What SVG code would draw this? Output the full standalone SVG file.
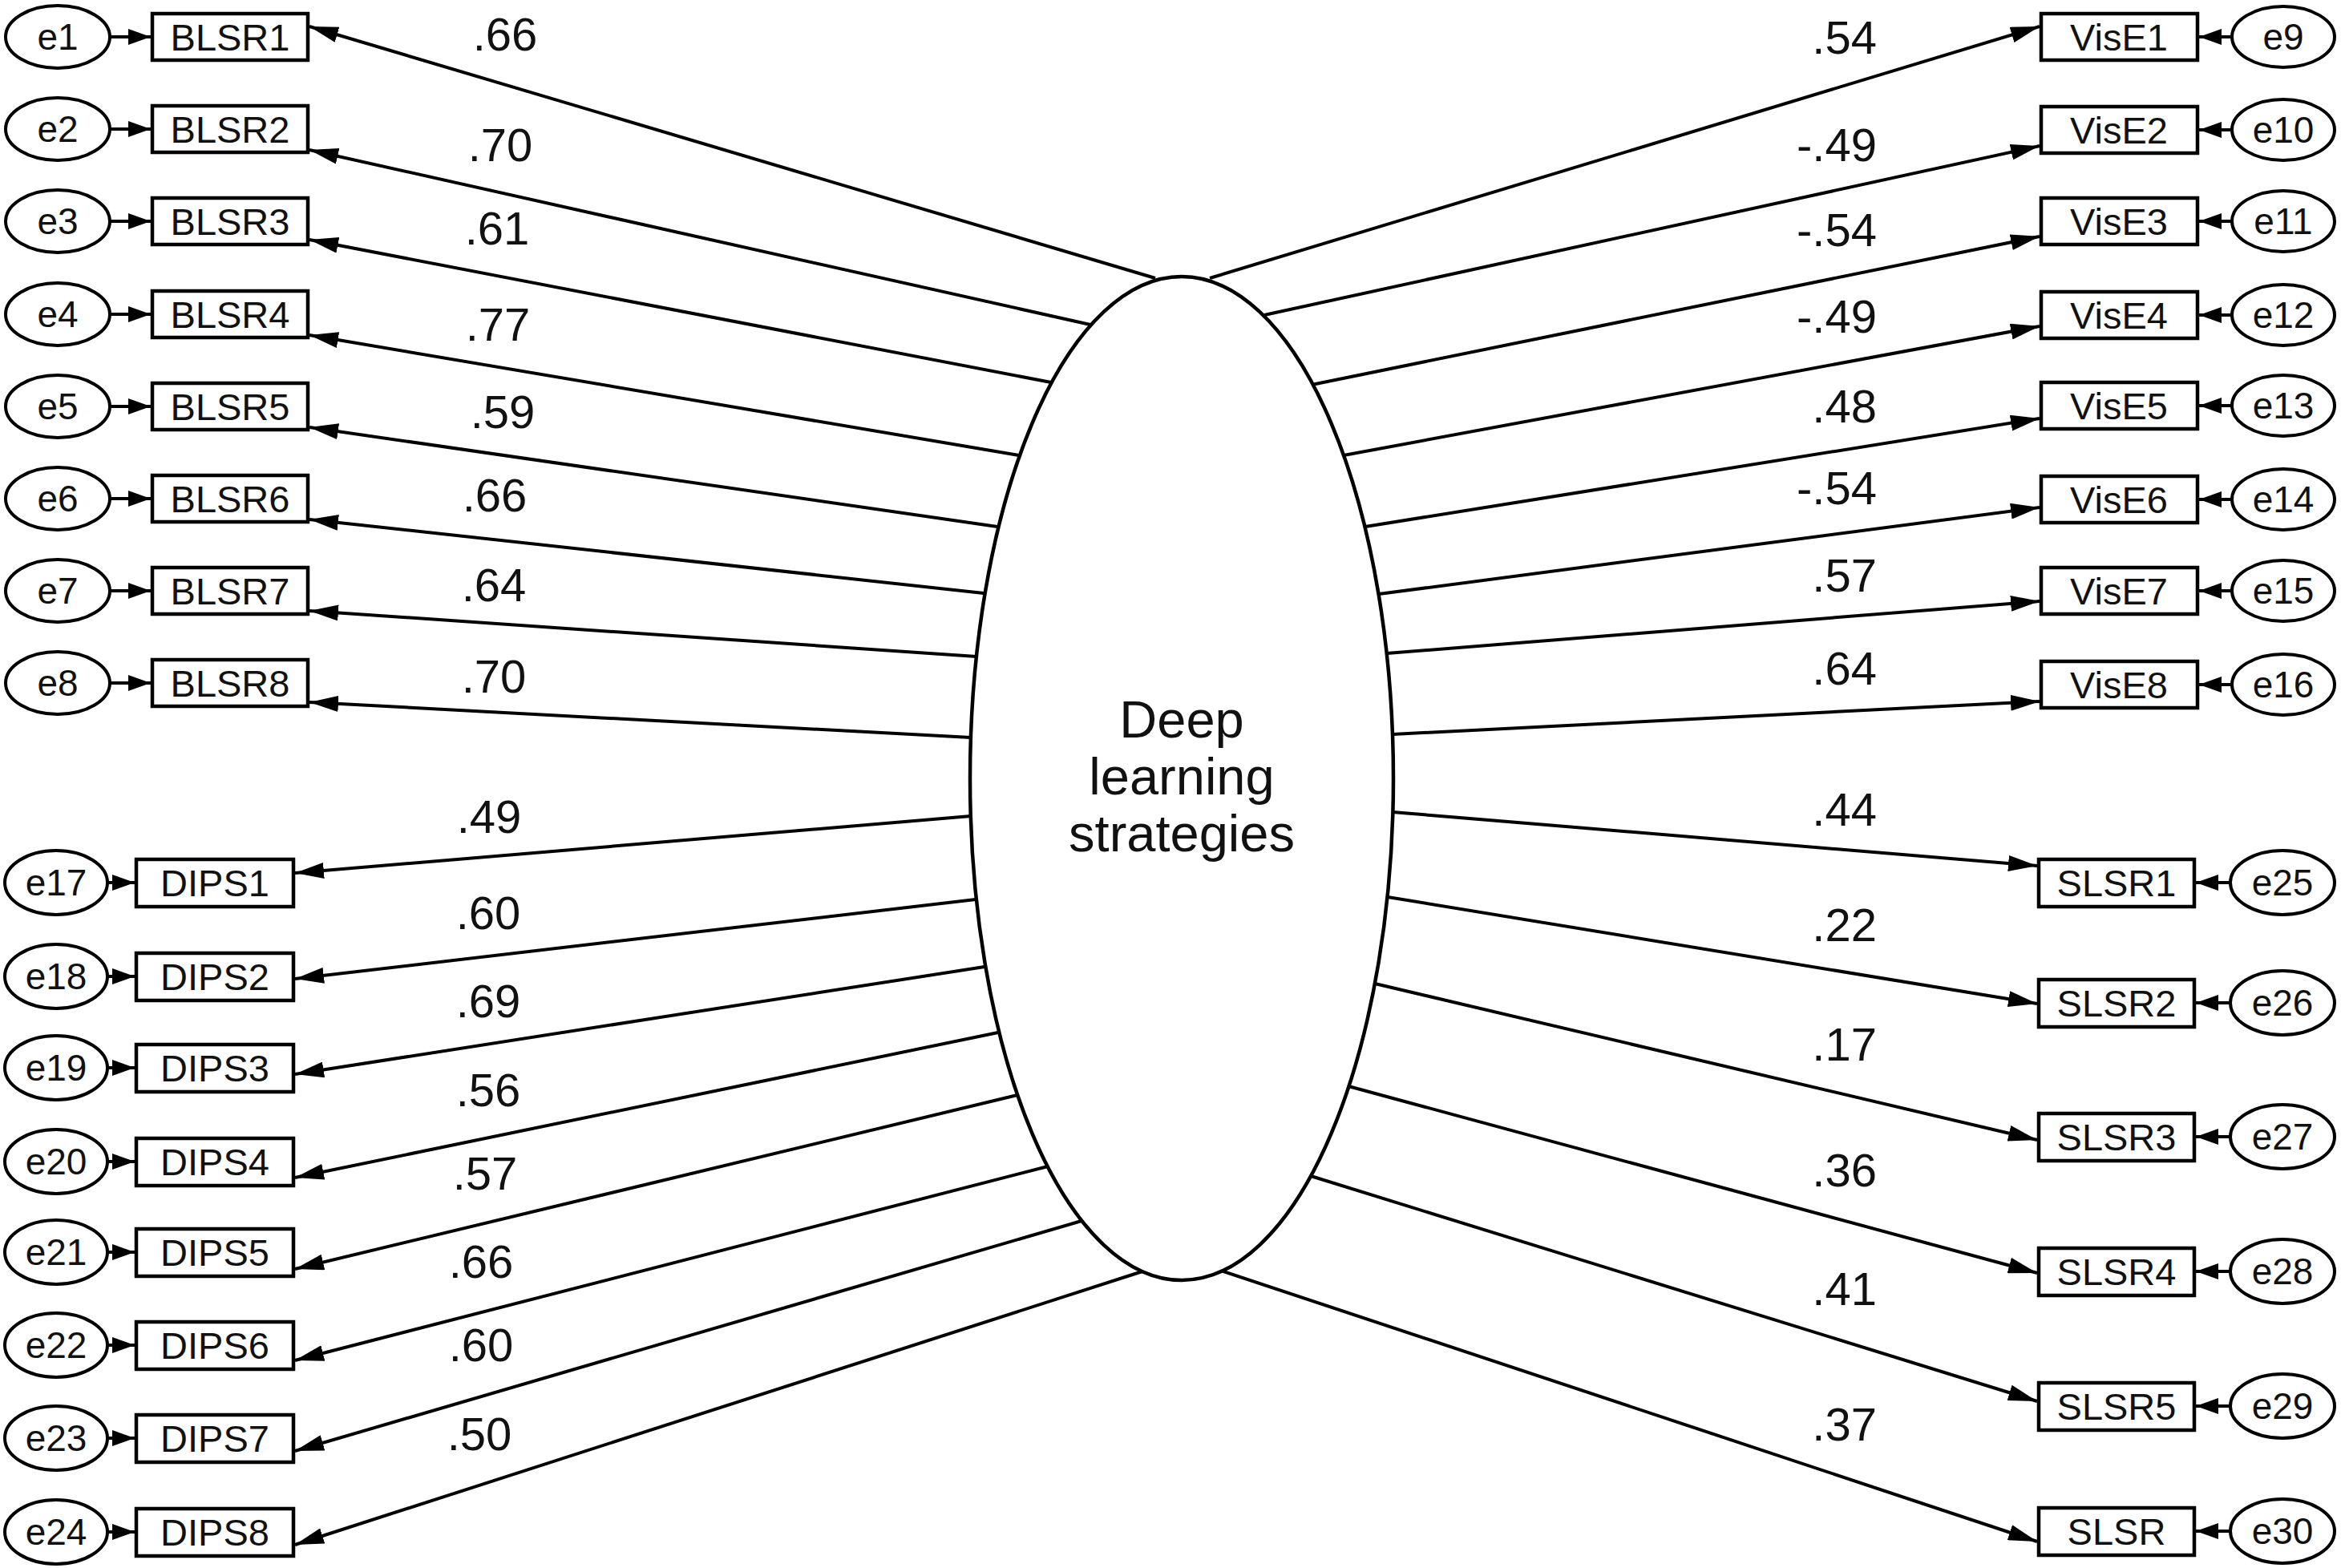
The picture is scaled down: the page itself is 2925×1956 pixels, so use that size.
<svg xmlns="http://www.w3.org/2000/svg" width="2925" height="1956" viewBox="0 0 2925 1956">
<defs>
<style>
.box{fill:#fff;stroke:#000;stroke-width:4.5}
.err{fill:#fff;stroke:#000;stroke-width:4}
.lat{fill:#fff;stroke:#000;stroke-width:4.5}
.bt{font-family:"Liberation Sans",Arial,sans-serif;font-size:47px;text-anchor:middle;fill:#111}
.et{font-family:"Liberation Sans",Arial,sans-serif;font-size:46px;text-anchor:middle;fill:#111}
.lt{font-family:"Liberation Sans",Arial,sans-serif;font-size:58px;text-anchor:middle;fill:#111}
.rt{font-family:"Liberation Sans",Arial,sans-serif;font-size:58px;text-anchor:end;fill:#111}
.ct{font-family:"Liberation Sans",Arial,sans-serif;font-size:65px;text-anchor:middle;fill:#111}
.ln{fill:none;stroke:#000;stroke-width:4;marker-end:url(#ah)}
.el{fill:none;stroke:#000;stroke-width:4;marker-end:url(#eh)}
</style>
<marker id="ah" viewBox="0 0 36 20" refX="36" refY="10" markerWidth="36" markerHeight="20" orient="auto" markerUnits="userSpaceOnUse"><path d="M0,0 L36,10 L0,20 z" fill="#000"/></marker>
<marker id="eh" viewBox="0 0 28 20" refX="28" refY="10" markerWidth="28" markerHeight="20" orient="auto" markerUnits="userSpaceOnUse"><path d="M0,0 L28,10 L0,20 z" fill="#000"/></marker>
</defs>
<rect width="2925" height="1956" fill="#fff"/>

<g id="connectors">
<line class="ln" x1="1441" y1="347" x2="386" y2="33"/>
<line class="ln" x1="1360" y1="405" x2="386" y2="187"/>
<line class="ln" x1="1311" y1="477" x2="386" y2="299"/>
<line class="ln" x1="1271" y1="568" x2="386" y2="418"/>
<line class="ln" x1="1244" y1="657" x2="386" y2="533"/>
<line class="ln" x1="1227" y1="740" x2="386" y2="648"/>
<line class="ln" x1="1218" y1="819" x2="386" y2="762"/>
<line class="ln" x1="1211" y1="920" x2="386" y2="876"/>
<line class="ln" x1="1509" y1="347" x2="2544" y2="33"/>
<line class="ln" x1="1577" y1="393" x2="2544" y2="182"/>
<line class="ln" x1="1636" y1="480" x2="2544" y2="295"/>
<line class="ln" x1="1676" y1="568" x2="2544" y2="407"/>
<line class="ln" x1="1703" y1="657" x2="2544" y2="522"/>
<line class="ln" x1="1720" y1="741" x2="2544" y2="633"/>
<line class="ln" x1="1730" y1="815" x2="2544" y2="750"/>
<line class="ln" x1="1737" y1="916" x2="2544" y2="875"/>
<line class="ln" x1="1211" y1="1018" x2="368" y2="1089"/>
<line class="ln" x1="1217" y1="1122" x2="368" y2="1221"/>
<line class="ln" x1="1228" y1="1206" x2="368" y2="1340"/>
<line class="ln" x1="1245" y1="1288" x2="368" y2="1469"/>
<line class="ln" x1="1269" y1="1366" x2="368" y2="1583"/>
<line class="ln" x1="1307" y1="1455" x2="368" y2="1697"/>
<line class="ln" x1="1349" y1="1523" x2="368" y2="1810"/>
<line class="ln" x1="1425" y1="1586" x2="368" y2="1927"/>
<line class="ln" x1="1737" y1="1013" x2="2541" y2="1080"/>
<line class="ln" x1="1731" y1="1119" x2="2541" y2="1252"/>
<line class="ln" x1="1715" y1="1227" x2="2541" y2="1422"/>
<line class="ln" x1="1682" y1="1355" x2="2541" y2="1588"/>
<line class="ln" x1="1635" y1="1467" x2="2541" y2="1748"/>
<line class="ln" x1="1523" y1="1585" x2="2541" y2="1923"/>
<line class="el" x1="137" y1="46" x2="188" y2="46"/>
<line class="el" x1="137" y1="161" x2="188" y2="161"/>
<line class="el" x1="137" y1="276" x2="188" y2="276"/>
<line class="el" x1="137" y1="392" x2="188" y2="392"/>
<line class="el" x1="137" y1="507" x2="188" y2="507"/>
<line class="el" x1="137" y1="622" x2="188" y2="622"/>
<line class="el" x1="137" y1="737" x2="188" y2="737"/>
<line class="el" x1="137" y1="852" x2="188" y2="852"/>
<line class="el" x1="134" y1="1101" x2="168" y2="1101"/>
<line class="el" x1="134" y1="1218" x2="168" y2="1218"/>
<line class="el" x1="134" y1="1332" x2="168" y2="1332"/>
<line class="el" x1="134" y1="1449" x2="168" y2="1449"/>
<line class="el" x1="134" y1="1562" x2="168" y2="1562"/>
<line class="el" x1="134" y1="1678" x2="168" y2="1678"/>
<line class="el" x1="134" y1="1794" x2="168" y2="1794"/>
<line class="el" x1="134" y1="1911" x2="168" y2="1911"/>
<line class="el" x1="2784" y1="46" x2="2743" y2="46"/>
<line class="el" x1="2784" y1="162" x2="2743" y2="162"/>
<line class="el" x1="2784" y1="276" x2="2743" y2="276"/>
<line class="el" x1="2784" y1="393" x2="2743" y2="393"/>
<line class="el" x1="2784" y1="506" x2="2743" y2="506"/>
<line class="el" x1="2784" y1="623" x2="2743" y2="623"/>
<line class="el" x1="2784" y1="737" x2="2743" y2="737"/>
<line class="el" x1="2784" y1="854" x2="2743" y2="854"/>
<line class="el" x1="2782" y1="1101" x2="2739" y2="1101"/>
<line class="el" x1="2782" y1="1251" x2="2739" y2="1251"/>
<line class="el" x1="2782" y1="1418" x2="2739" y2="1418"/>
<line class="el" x1="2782" y1="1586" x2="2739" y2="1586"/>
<line class="el" x1="2782" y1="1754" x2="2739" y2="1754"/>
<line class="el" x1="2782" y1="1910" x2="2739" y2="1910"/>
</g>

<g id="labels">
<text class="lt" x="630" y="63">.66</text>
<text class="lt" x="624" y="201">.70</text>
<text class="lt" x="620" y="305">.61</text>
<text class="lt" x="621" y="425">.77</text>
<text class="lt" x="627" y="534">.59</text>
<text class="lt" x="617" y="638">.66</text>
<text class="lt" x="616" y="750">.64</text>
<text class="lt" x="616" y="864">.70</text>
<text class="lt" x="610" y="1039">.49</text>
<text class="lt" x="609" y="1159">.60</text>
<text class="lt" x="609" y="1269">.69</text>
<text class="lt" x="609" y="1380">.56</text>
<text class="lt" x="605" y="1484">.57</text>
<text class="lt" x="600" y="1594">.66</text>
<text class="lt" x="600" y="1698">.60</text>
<text class="lt" x="598" y="1809">.50</text>
<text class="rt" x="2341" y="67">.54</text>
<text class="rt" x="2341" y="201">-.49</text>
<text class="rt" x="2341" y="307">-.54</text>
<text class="rt" x="2341" y="415">-.49</text>
<text class="rt" x="2341" y="527">.48</text>
<text class="rt" x="2341" y="629">-.54</text>
<text class="rt" x="2341" y="738">.57</text>
<text class="rt" x="2341" y="854">.64</text>
<text class="rt" x="2341" y="1030">.44</text>
<text class="rt" x="2341" y="1174">.22</text>
<text class="rt" x="2341" y="1323">.17</text>
<text class="rt" x="2341" y="1480">.36</text>
<text class="rt" x="2341" y="1628">.41</text>
<text class="rt" x="2341" y="1797">.37</text>
</g>

<g id="latent">
<ellipse class="lat" cx="1474" cy="971" rx="264" ry="626"/>
<text class="ct" x="1474" y="920">Deep</text>
<text class="ct" x="1474" y="991">learning</text>
<text class="ct" x="1474" y="1062">strategies</text>
</g>

<g id="BLSR1"><rect class="box" x="190" y="17" width="194" height="58"/><text class="bt" x="287" y="63">BLSR1</text></g>
<g id="BLSR2"><rect class="box" x="190" y="132" width="194" height="58"/><text class="bt" x="287" y="178">BLSR2</text></g>
<g id="BLSR3"><rect class="box" x="190" y="247" width="194" height="58"/><text class="bt" x="287" y="293">BLSR3</text></g>
<g id="BLSR4"><rect class="box" x="190" y="363" width="194" height="58"/><text class="bt" x="287" y="409">BLSR4</text></g>
<g id="BLSR5"><rect class="box" x="190" y="478" width="194" height="58"/><text class="bt" x="287" y="524">BLSR5</text></g>
<g id="BLSR6"><rect class="box" x="190" y="593" width="194" height="58"/><text class="bt" x="287" y="639">BLSR6</text></g>
<g id="BLSR7"><rect class="box" x="190" y="708" width="194" height="58"/><text class="bt" x="287" y="754">BLSR7</text></g>
<g id="BLSR8"><rect class="box" x="190" y="823" width="194" height="58"/><text class="bt" x="287" y="869">BLSR8</text></g>

<g id="e1"><ellipse class="err" cx="72" cy="46" rx="65" ry="39"/><text class="et" x="72" y="62">e1</text></g>
<g id="e2"><ellipse class="err" cx="72" cy="161" rx="65" ry="39"/><text class="et" x="72" y="177">e2</text></g>
<g id="e3"><ellipse class="err" cx="72" cy="276" rx="65" ry="39"/><text class="et" x="72" y="292">e3</text></g>
<g id="e4"><ellipse class="err" cx="72" cy="392" rx="65" ry="39"/><text class="et" x="72" y="408">e4</text></g>
<g id="e5"><ellipse class="err" cx="72" cy="507" rx="65" ry="39"/><text class="et" x="72" y="523">e5</text></g>
<g id="e6"><ellipse class="err" cx="72" cy="622" rx="65" ry="39"/><text class="et" x="72" y="638">e6</text></g>
<g id="e7"><ellipse class="err" cx="72" cy="737" rx="65" ry="39"/><text class="et" x="72" y="753">e7</text></g>
<g id="e8"><ellipse class="err" cx="72" cy="852" rx="65" ry="39"/><text class="et" x="72" y="868">e8</text></g>

<g id="DIPS1"><rect class="box" x="170" y="1072" width="196" height="59"/><text class="bt" x="268" y="1118">DIPS1</text></g>
<g id="DIPS2"><rect class="box" x="170" y="1189" width="196" height="59"/><text class="bt" x="268" y="1235">DIPS2</text></g>
<g id="DIPS3"><rect class="box" x="170" y="1303" width="196" height="59"/><text class="bt" x="268" y="1349">DIPS3</text></g>
<g id="DIPS4"><rect class="box" x="170" y="1420" width="196" height="59"/><text class="bt" x="268" y="1466">DIPS4</text></g>
<g id="DIPS5"><rect class="box" x="170" y="1533" width="196" height="59"/><text class="bt" x="268" y="1579">DIPS5</text></g>
<g id="DIPS6"><rect class="box" x="170" y="1649" width="196" height="59"/><text class="bt" x="268" y="1695">DIPS6</text></g>
<g id="DIPS7"><rect class="box" x="170" y="1765" width="196" height="59"/><text class="bt" x="268" y="1811">DIPS7</text></g>
<g id="DIPS8"><rect class="box" x="170" y="1882" width="196" height="59"/><text class="bt" x="268" y="1928">DIPS8</text></g>

<g id="e17"><ellipse class="err" cx="70" cy="1101" rx="64" ry="40"/><text class="et" x="70" y="1117">e17</text></g>
<g id="e18"><ellipse class="err" cx="70" cy="1218" rx="64" ry="40"/><text class="et" x="70" y="1234">e18</text></g>
<g id="e19"><ellipse class="err" cx="70" cy="1332" rx="64" ry="40"/><text class="et" x="70" y="1348">e19</text></g>
<g id="e20"><ellipse class="err" cx="70" cy="1449" rx="64" ry="40"/><text class="et" x="70" y="1465">e20</text></g>
<g id="e21"><ellipse class="err" cx="70" cy="1562" rx="64" ry="40"/><text class="et" x="70" y="1578">e21</text></g>
<g id="e22"><ellipse class="err" cx="70" cy="1678" rx="64" ry="40"/><text class="et" x="70" y="1694">e22</text></g>
<g id="e23"><ellipse class="err" cx="70" cy="1794" rx="64" ry="40"/><text class="et" x="70" y="1810">e23</text></g>
<g id="e24"><ellipse class="err" cx="70" cy="1911" rx="64" ry="40"/><text class="et" x="70" y="1927">e24</text></g>

<g id="VisE1"><rect class="box" x="2546" y="17" width="195" height="58"/><text class="bt" x="2643" y="63">VisE1</text></g>
<g id="VisE2"><rect class="box" x="2546" y="133" width="195" height="58"/><text class="bt" x="2643" y="179">VisE2</text></g>
<g id="VisE3"><rect class="box" x="2546" y="247" width="195" height="58"/><text class="bt" x="2643" y="293">VisE3</text></g>
<g id="VisE4"><rect class="box" x="2546" y="364" width="195" height="58"/><text class="bt" x="2643" y="410">VisE4</text></g>
<g id="VisE5"><rect class="box" x="2546" y="477" width="195" height="58"/><text class="bt" x="2643" y="523">VisE5</text></g>
<g id="VisE6"><rect class="box" x="2546" y="594" width="195" height="58"/><text class="bt" x="2643" y="640">VisE6</text></g>
<g id="VisE7"><rect class="box" x="2546" y="708" width="195" height="58"/><text class="bt" x="2643" y="754">VisE7</text></g>
<g id="VisE8"><rect class="box" x="2546" y="825" width="195" height="58"/><text class="bt" x="2643" y="871">VisE8</text></g>

<g id="e9"><ellipse class="err" cx="2848" cy="46" rx="64" ry="38"/><text class="et" x="2848" y="62">e9</text></g>
<g id="e10"><ellipse class="err" cx="2848" cy="162" rx="64" ry="38"/><text class="et" x="2848" y="178">e10</text></g>
<g id="e11"><ellipse class="err" cx="2848" cy="276" rx="64" ry="38"/><text class="et" x="2848" y="292">e11</text></g>
<g id="e12"><ellipse class="err" cx="2848" cy="393" rx="64" ry="38"/><text class="et" x="2848" y="409">e12</text></g>
<g id="e13"><ellipse class="err" cx="2848" cy="506" rx="64" ry="38"/><text class="et" x="2848" y="522">e13</text></g>
<g id="e14"><ellipse class="err" cx="2848" cy="623" rx="64" ry="38"/><text class="et" x="2848" y="639">e14</text></g>
<g id="e15"><ellipse class="err" cx="2848" cy="737" rx="64" ry="38"/><text class="et" x="2848" y="753">e15</text></g>
<g id="e16"><ellipse class="err" cx="2848" cy="854" rx="64" ry="38"/><text class="et" x="2848" y="870">e16</text></g>

<g id="SLSR1"><rect class="box" x="2543" y="1072" width="194" height="59"/><text class="bt" x="2640" y="1118">SLSR1</text></g>
<g id="SLSR2"><rect class="box" x="2543" y="1222" width="194" height="59"/><text class="bt" x="2640" y="1268">SLSR2</text></g>
<g id="SLSR3"><rect class="box" x="2543" y="1389" width="194" height="59"/><text class="bt" x="2640" y="1435">SLSR3</text></g>
<g id="SLSR4"><rect class="box" x="2543" y="1557" width="194" height="59"/><text class="bt" x="2640" y="1603">SLSR4</text></g>
<g id="SLSR5"><rect class="box" x="2543" y="1725" width="194" height="59"/><text class="bt" x="2640" y="1771">SLSR5</text></g>
<g id="SLSR"><rect class="box" x="2543" y="1881" width="194" height="59"/><text class="bt" x="2640" y="1927">SLSR</text></g>

<g id="e25"><ellipse class="err" cx="2847" cy="1101" rx="65" ry="40"/><text class="et" x="2847" y="1117">e25</text></g>
<g id="e26"><ellipse class="err" cx="2847" cy="1251" rx="65" ry="40"/><text class="et" x="2847" y="1267">e26</text></g>
<g id="e27"><ellipse class="err" cx="2847" cy="1418" rx="65" ry="40"/><text class="et" x="2847" y="1434">e27</text></g>
<g id="e28"><ellipse class="err" cx="2847" cy="1586" rx="65" ry="40"/><text class="et" x="2847" y="1602">e28</text></g>
<g id="e29"><ellipse class="err" cx="2847" cy="1754" rx="65" ry="40"/><text class="et" x="2847" y="1770">e29</text></g>
<g id="e30"><ellipse class="err" cx="2847" cy="1910" rx="65" ry="40"/><text class="et" x="2847" y="1926">e30</text></g>
</svg>
